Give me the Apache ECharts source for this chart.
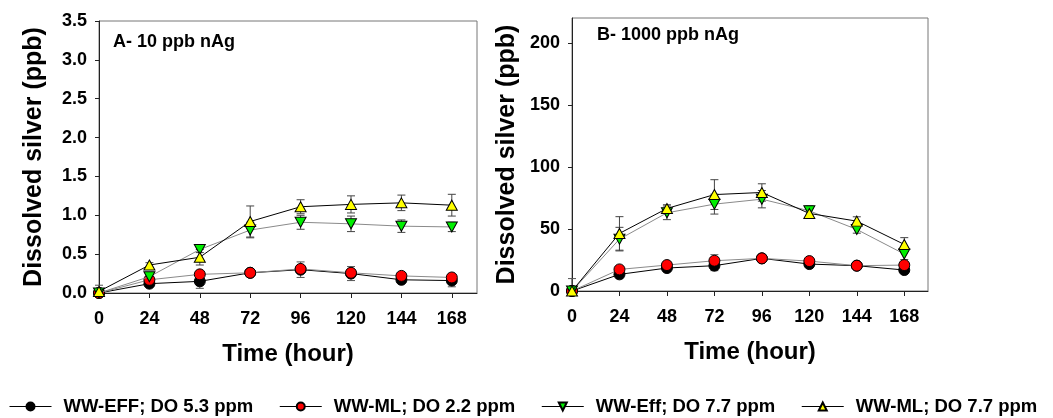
<!DOCTYPE html>
<html>
<head>
<meta charset="utf-8">
<script src="https://cdn.jsdelivr.net/npm/echarts@6/dist/echarts.min.js"></script>
<style>
html,body{margin:0;padding:0;background:#fff;}
#chart{width:1053px;height:418px;}
</style>
</head>
<body>
<div id="chart"></div>
<script>
// ---- data ----
const hours = [0, 24, 48, 72, 96, 120, 144, 168];
const xTickLabels = [0, 24, 48, 72, 96, 120, 144, 168];
const yTicksA = [0, 0.5, 1.0, 1.5, 2.0, 2.5, 3.0, 3.5];
const yTicksB = [0, 50, 100, 150, 200];
const seriesNames = ['WW-EFF; DO 5.3 ppm', 'WW-ML; DO 2.2 ppm', 'WW-Eff; DO 7.7 ppm', 'WW-ML; DO 7.7 ppm'];
const panelTitles = ['A- 10 ppb nAg', 'B- 1000 ppb nAg'];

// Panel A (10 ppb nAg)
const effDO53_A = [0, 0.12, 0.15, 0.26, 0.30, 0.25, 0.17, 0.16];
const mlDO22_A  = [0, 0.17, 0.24, 0.26, 0.31, 0.26, 0.22, 0.20];
const effDO77_A = [0, 0.21, 0.56, 0.81, 0.91, 0.89, 0.86, 0.85];
const mlDO77_A  = [0.02, 0.36, 0.46, 0.92, 1.11, 1.14, 1.16, 1.13];
const effDO53_A_err = [0.10, 0.03, 0.09, 0.03, 0.10, 0.09, 0.04, 0.08];
const mlDO22_A_err  = [0.02, 0.03, 0.03, 0.03, 0.04, 0.04, 0.03, 0.03];
const effDO77_A_err = [0.02, 0.03, 0.04, 0.10, 0.09, 0.10, 0.08, 0.06];
const mlDO77_A_err  = [0.02, 0.03, 0.10, 0.20, 0.09, 0.11, 0.10, 0.14];

// Panel B (1000 ppb nAg)
const effDO53_B = [0, 13.4, 18.5, 20.4, 26.3, 21.7, 20.4, 16.9];
const mlDO22_B  = [0, 17.4, 20.9, 24.4, 26.3, 24.1, 20.4, 20.9];
const effDO77_B = [0, 41.8, 63.0, 70.0, 74.0, 64.6, 49.6, 29.8];
const mlDO77_B  = [0, 46.4, 66.5, 77.7, 79.4, 62.5, 56.3, 37.5];
const effDO53_B_err = [10, 2, 2, 4, 2, 2, 1.5, 2];
const mlDO22_B_err  = [1, 2, 2, 5, 2, 2, 1.5, 2];
const effDO77_B_err = [1, 9.5, 5.5, 8, 7, 4, 3, 4.5];
const mlDO77_B_err  = [1, 13.5, 3, 12, 7, 4, 3.5, 5.5];

// ---- styles ----
const FONT = '"Liberation Sans", Arial, sans-serif';
const markerStyles = [
  {symbol: 'circle', size: 11, rotate: 0, color: '#000000', line: '#000000', err: '#555555'},
  {symbol: 'circle', size: 11, rotate: 0, color: '#ff0000', line: '#8a8a8a', err: '#777777'},
  {symbol: 'triangle', size: [11, 10], rotate: 180, color: '#00ee00', line: '#8a8a8a', err: '#444444'},
  {symbol: 'triangle', size: [11, 10], rotate: 0, color: '#ffff00', line: '#000000', err: '#444444'}
];

const panelData = [
  {vals: [effDO53_A, mlDO22_A, effDO77_A, mlDO77_A], errs: [effDO53_A_err, mlDO22_A_err, effDO77_A_err, mlDO77_A_err]},
  {vals: [effDO53_B, mlDO22_B, effDO77_B, mlDO77_B], errs: [effDO53_B_err, mlDO22_B_err, effDO77_B_err, mlDO77_B_err]}
];

function pairs(xs, ys) { return xs.map((x, i) => [x, ys[i]]); }
function triples(xs, ys, es) { return xs.map((x, i) => [x, ys[i], es[i]]); }

function errRender(color) {
  return function (params, api) {
    const x = api.value(0), y = api.value(1), e = api.value(2);
    const top = api.coord([x, y + e]);
    const bot = api.coord([x, Math.max(y - e, 0)]);
    const hw = 4;
    const st = {stroke: color, lineWidth: 1};
    const children = [
      {type: 'line', shape: {x1: top[0], y1: top[1], x2: bot[0], y2: bot[1]}, style: st},
      {type: 'line', shape: {x1: top[0] - hw, y1: top[1], x2: top[0] + hw, y2: top[1]}, style: st}
    ];
    if (y - e > 0) {
      children.push({type: 'line', shape: {x1: bot[0] - hw, y1: bot[1], x2: bot[0] + hw, y2: bot[1]}, style: st});
    }
    return {type: 'group', children: children};
  };
}

const series = [];
panelData.forEach((pd, p) => {
  pd.vals.forEach((vals, k) => {
    const ms = markerStyles[k];
    series.push({
      type: 'custom',
      xAxisIndex: p, yAxisIndex: p,
      z: 1,
      silent: true,
      renderItem: errRender(ms.err),
      data: triples(hours, vals, pd.errs[k])
    });
  });
  pd.vals.forEach((vals, k) => {
    const ms = markerStyles[k];
    series.push({
      type: 'line',
      name: seriesNames[k],
      xAxisIndex: p, yAxisIndex: p,
      z: 3 + k,
      data: pairs(hours, vals),
      symbol: ms.symbol,
      symbolSize: ms.size,
      symbolRotate: ms.rotate,
      showAllSymbol: true,
      animation: false,
      lineStyle: {color: ms.line, width: 1},
      itemStyle: {color: ms.color, borderColor: '#000', borderWidth: 1},
      emphasis: {disabled: true}
    });
  });
});

const axisLabelStyle = {color: '#000', fontSize: 18, fontWeight: 'bold', fontFamily: FONT};
const xNameStyle = {color: '#000', fontSize: 24, fontWeight: 'bold', fontFamily: FONT};
const yNameStyle = {color: '#000', fontSize: 25, fontWeight: 'bold', fontFamily: FONT};

function xAxis(idx) {
  return {
    type: 'value', gridIndex: idx, min: 0, max: 180,
    axisLine: {show: true, lineStyle: {color: '#222', width: 1}},
    axisTick: {show: true, length: 5, inside: false, customValues: xTickLabels, lineStyle: {color: '#222'}},
    axisLabel: Object.assign({margin: 17, customValues: xTickLabels}, axisLabelStyle),
    splitLine: {show: false},
    name: 'Time (hour)', nameLocation: 'middle', nameGap: 49,
    nameTextStyle: xNameStyle
  };
}
function yAxis(idx, max, ticks, fmt) {
  return {
    type: 'value', gridIndex: idx, min: 0, max: max,
    axisLine: {show: true, lineStyle: {color: '#222', width: 1}},
    axisTick: {show: true, length: 4, inside: false, customValues: ticks, lineStyle: {color: '#222'}},
    axisLabel: Object.assign({margin: 12, customValues: ticks, formatter: fmt}, axisLabelStyle),
    splitLine: {show: false},
    name: 'Dissolved silver (ppb)', nameLocation: 'middle', nameGap: 52, nameRotate: 90,
    nameTextStyle: yNameStyle
  };
}

const option = {
  backgroundColor: '#fff',
  animation: false,
  title: [
    {text: panelTitles[0], left: 113, top: 33, padding: 0,
     textStyle: {fontSize: 18, fontWeight: 'bold', fontFamily: FONT, color: '#000'}},
    {text: panelTitles[1], left: 597, top: 26, padding: 0,
     textStyle: {fontSize: 18, fontWeight: 'bold', fontFamily: FONT, color: '#000'}}
  ],
  grid: [
    {left: 99, top: 21, width: 378, height: 272, show: true, borderColor: '#777', borderWidth: 1, backgroundColor: 'transparent'},
    {left: 572, top: 18, width: 356, height: 273, show: true, borderColor: '#777', borderWidth: 1, backgroundColor: 'transparent'}
  ],
  xAxis: [xAxis(0), xAxis(1)],
  yAxis: [
    yAxis(0, 3.5, yTicksA, v => v.toFixed(1)),
    yAxis(1, 220, yTicksB, v => String(v))
  ],
  legend: {
    data: seriesNames,
    left: 9, top: 397,
    itemWidth: 42, itemHeight: 10, itemGap: 26,
    padding: 0,
    selectedMode: false,
    lineStyle: {color: '#000', width: 1},
    textStyle: {fontSize: 18.5, fontWeight: 'bold', fontFamily: FONT, color: '#000', padding: [0, 0, 0, 7]}
  },
  series: series
};

const chart = echarts.init(document.getElementById('chart'), null, {renderer: 'canvas'});
chart.setOption(option);
</script>
</body>
</html>
